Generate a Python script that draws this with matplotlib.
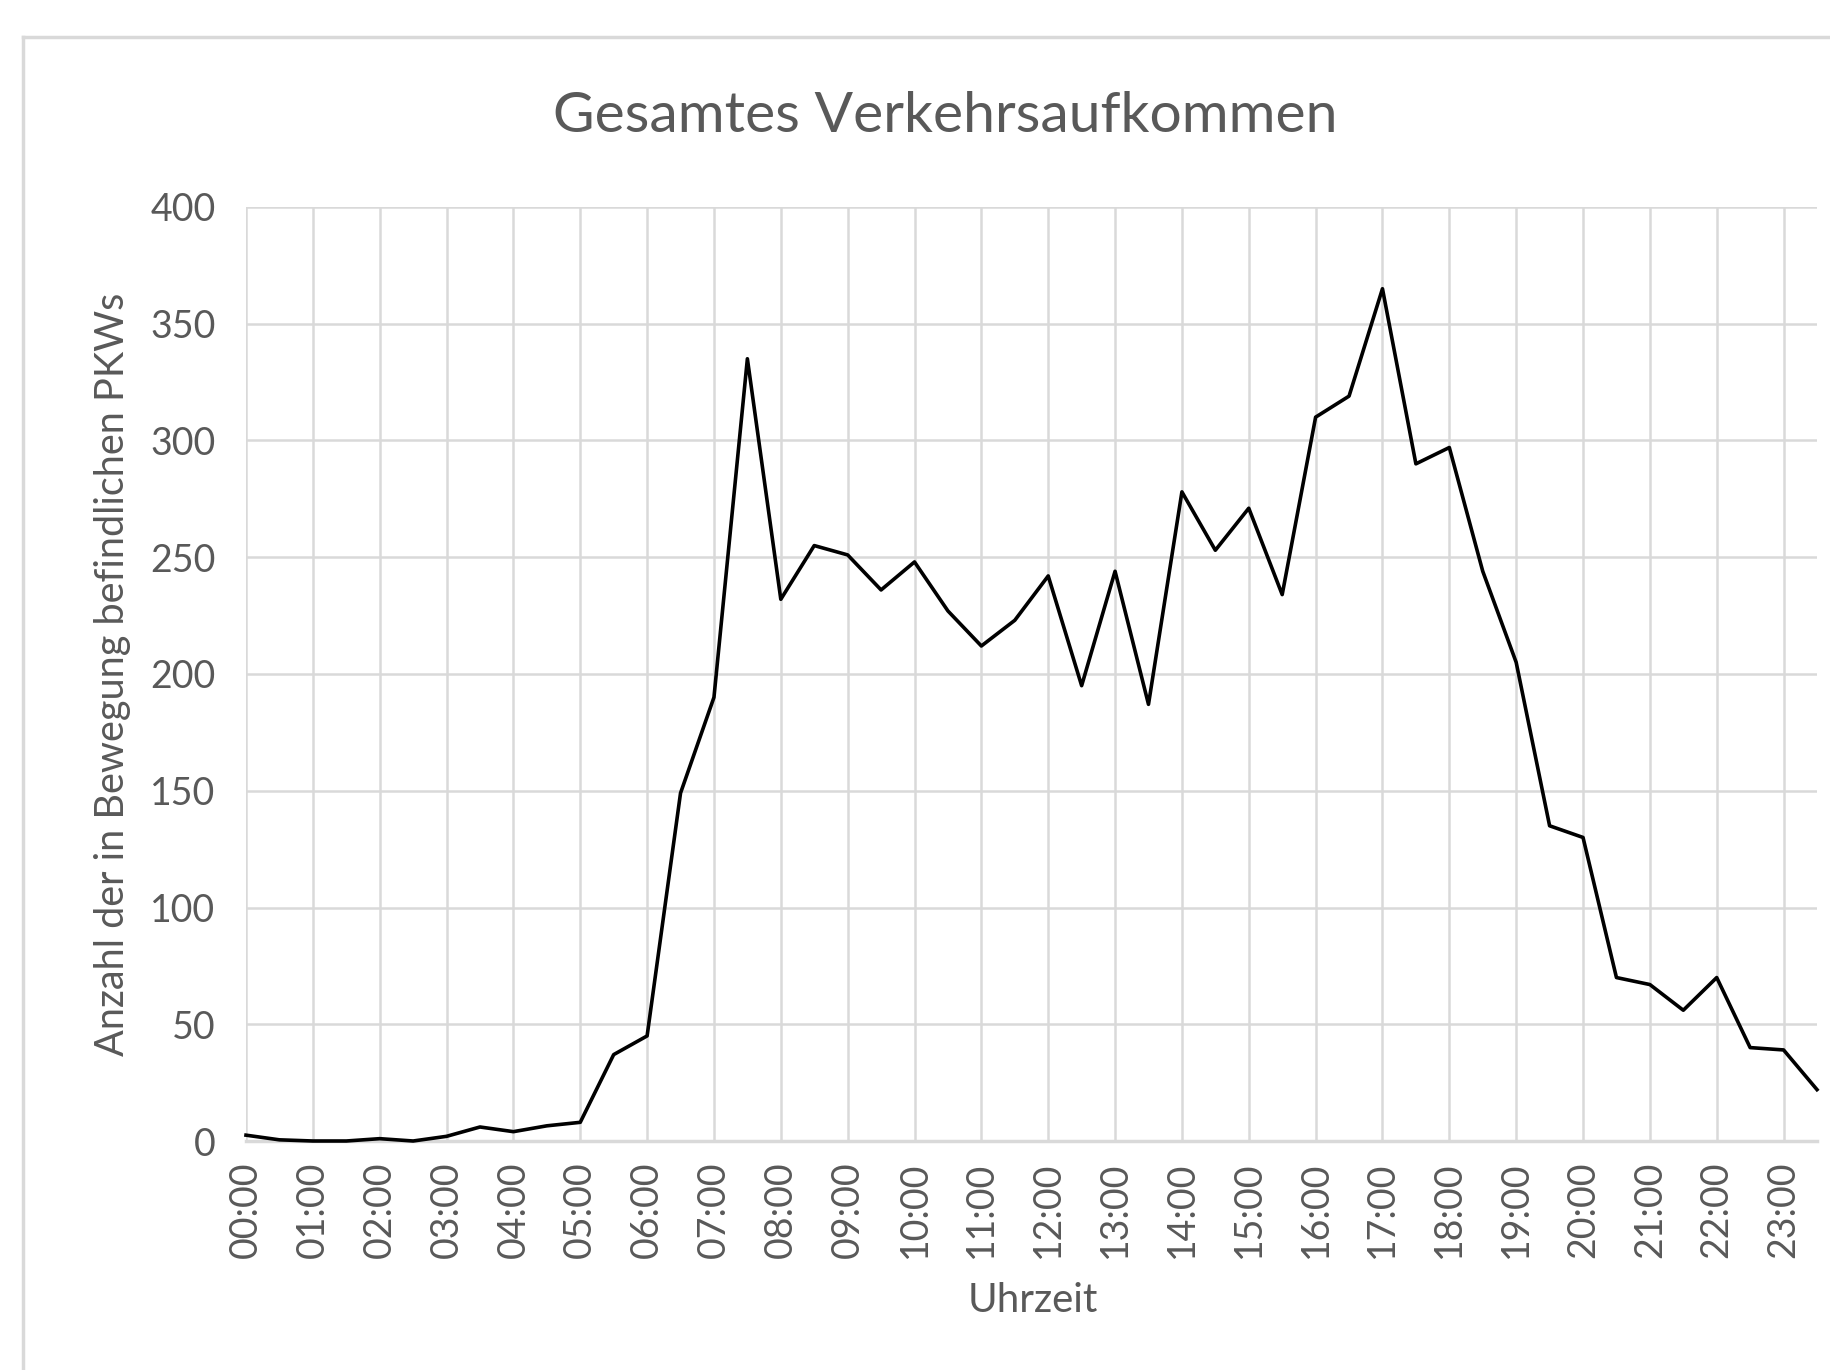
import matplotlib
matplotlib.use("Agg")
import matplotlib.pyplot as plt
import numpy as np

# half-hourly slots 00:00 .. 23:30
TIMES = ["%02d:%02d" % (h, m) for h in range(24) for m in (0, 30)]
PKW = [2.5, 0.5, 0, 0, 1, 0, 2, 6, 4, 6.5,
       8, 37, 45, 149, 190, 335, 232, 255, 251, 236,
       248, 227, 212, 223, 242, 195, 244, 187, 278, 253,
       271, 234, 310, 319, 365, 290, 297, 244, 205, 135,
       130, 70, 67, 56, 70, 40, 39, 22]
Y_TICKS = [0, 50, 100, 150, 200, 250, 300, 350, 400]

TITLE = "Gesamtes Verkehrsaufkommen"
XLABEL = "Uhrzeit"
YLABEL = "Anzahl der in Bewegung befindlichen PKWs"

GRID = "#d9d9d9"
TXT = "#595959"
plt.rcParams['font.family'] = ['Lato', 'DejaVu Sans']

fig = plt.figure(figsize=(18.3, 13.7), dpi=100)
# chart frame (left and top edge visible, rest cropped)
fig.add_artist(plt.Line2D([23/1830, 23/1830], [0, 1 - 37/1370], color=GRID, lw=2.5))
fig.add_artist(plt.Line2D([23/1830, 1], [1 - 37/1370, 1 - 37/1370], color=GRID, lw=2.5))

ax = fig.add_axes([246/1830, 1 - 1141/1370, (1817 - 246)/1830, (1141 - 207)/1370])
x = np.arange(len(TIMES))
ax.plot(x, PKW, color="black", lw=2.6, zorder=3, clip_on=False)

ax.set_xlim(0, len(TIMES) - 1)
ax.set_ylim(0, 400)
ax.set_yticks(Y_TICKS)
# labels and gridlines only on full hours
ax.set_xticks(x[::2])
ax.set_xticklabels(TIMES[::2], rotation=90)
ax.tick_params(axis="both", length=0, labelsize=27, colors=TXT)
ax.tick_params(axis="y", pad=22)
ax.tick_params(axis="x", pad=15)

ax.grid(True, color=GRID, lw=1.8, zorder=0)
ax.set_axisbelow(True)
for s in ["top", "right", "left"]:
    ax.spines[s].set_visible(False)
ax.spines["bottom"].set_color(GRID)
ax.spines["bottom"].set_linewidth(2.5)
ax.spines["bottom"].set_zorder(1)

fig.text(945/1830, 1 - 117/1370, TITLE, ha="center", va="center", fontsize=41, color=TXT)
fig.text(1033/1830, 1 - 1301/1370, XLABEL, ha="center", va="center", fontsize=29, color=TXT)
fig.text(113/1830, 1 - 674/1370, YLABEL, ha="center", va="center", rotation=90, fontsize=28.5, color=TXT)

fig.savefig("out.png", dpi=100)
